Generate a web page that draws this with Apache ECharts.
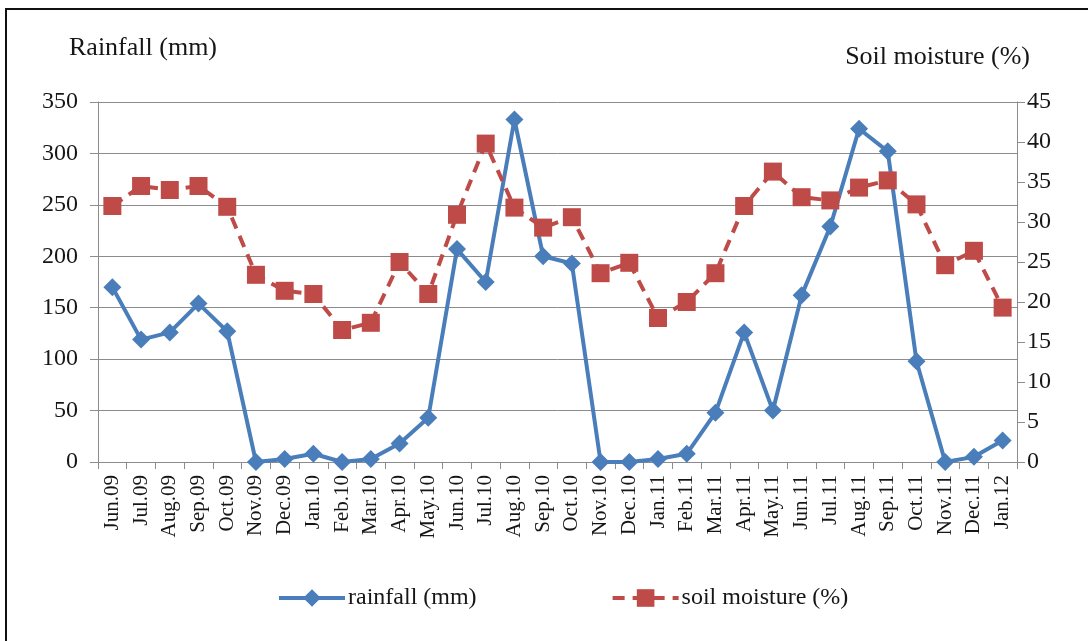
<!DOCTYPE html>
<html>
<head>
<meta charset="utf-8">
<title>Rainfall and soil moisture</title>
<script src="https://cdn.jsdelivr.net/npm/echarts@6/dist/echarts.min.js"></script>
<style>
  html, body { margin: 0; padding: 0; background: #fff; }
  #chart { width: 1088px; height: 641px; }
</style>
</head>
<body>
<div id="chart"></div>
<script>
// Monthly categories, Jun 2009 – Jan 2012
const months = [
  'Jun.09','Jul.09','Aug.09','Sep.09','Oct.09','Nov.09','Dec.09',
  'Jan.10','Feb.10','Mar.10','Apr.10','May.10','Jun.10','Jul.10','Aug.10','Sep.10','Oct.10','Nov.10','Dec.10',
  'Jan.11','Feb.11','Mar.11','Apr.11','May.11','Jun.11','Jul.11','Aug.11','Sep.11','Oct.11','Nov.11','Dec.11',
  'Jan.12'
];

// Monthly rainfall (mm)
const rainfall = [
  170, 119, 126, 154, 127, 0, 3,
  8, 0, 3, 18, 43, 207, 175, 333, 200, 193, 0, 0,
  3, 8, 48, 126, 50, 162, 229, 324, 302, 98, 0, 5,
  21
];

// Soil moisture (%)
const soilMoisture = [
  32.0, 34.5, 34.0, 34.5, 31.9, 23.4, 21.4,
  21.0, 16.5, 17.4, 25.0, 21.0, 30.9, 39.8, 31.8, 29.3, 30.6, 23.6, 24.9,
  18.0, 20.0, 23.6, 32.0, 36.3, 33.1, 32.7, 34.3, 35.2, 32.2, 24.6, 26.4,
  19.3
];

// Axis scales
const rainAxis = { min: 0, max: 350, interval: 50 };
const soilAxis = { min: 0, max: 45, interval: 5 };

const FONT = '"Liberation Serif", "Times New Roman", serif';
const BLUE = '#4A7EBB';
const RED = '#BE4B48';
const GRID_GRAY = '#8C8C8C';
const TEXT = '#161616';

const chart = echarts.init(document.getElementById('chart'), null, { renderer: 'canvas' });

chart.setOption({
  animation: false,
  backgroundColor: '#fff',
  textStyle: { fontFamily: FONT, color: TEXT },
  graphic: [
    {
      type: 'rect',
      shape: { x: 6, y: 9, width: 1100, height: 700 },
      style: { fill: 'none', stroke: '#111', lineWidth: 2 },
      silent: true
    },
    {
      type: 'text',
      left: 69, top: 35,
      style: { text: 'Rainfall (mm)', font: '26px ' + FONT, fill: TEXT }
    },
    {
      type: 'text',
      right: 58, top: 44,
      style: { text: 'Soil moisture (%)', font: '26px ' + FONT, fill: TEXT }
    }
  ],
  grid: { left: 98, right: 71, top: 102, bottom: 179, containLabel: false },
  legend: {
    left: 272,
    top: 581,
    itemGap: 134,
    itemWidth: 66,
    itemHeight: 22,
    textStyle: { fontFamily: FONT, fontSize: 24, color: TEXT, padding: [0, 0, 0, -2] },
    data: [
      { name: 'rainfall (mm)', lineStyle: { width: 4 } },
      { name: 'soil moisture (%)', lineStyle: { width: 4 } }
    ]
  },
  xAxis: {
    type: 'category',
    data: months,
    boundaryGap: true,
    axisLine: { lineStyle: { color: GRID_GRAY, width: 1 } },
    axisTick: { show: true, length: 7, interval: 0, lineStyle: { color: GRID_GRAY } },
    axisLabel: {
      interval: 0,
      rotate: 90,
      margin: 13,
      fontFamily: FONT,
      fontSize: 21,
      color: TEXT
    },
    splitLine: { show: false }
  },
  yAxis: [
    {
      type: 'value',
      min: rainAxis.min, max: rainAxis.max, interval: rainAxis.interval,
      position: 'left',
      axisLine: { show: true, lineStyle: { color: GRID_GRAY } },
      axisTick: { show: true, length: 8, lineStyle: { color: GRID_GRAY } },
      axisLabel: { fontFamily: FONT, fontSize: 24, color: TEXT, margin: 20 },
      splitLine: { show: true, lineStyle: { color: GRID_GRAY, width: 1 } }
    },
    {
      type: 'value',
      min: soilAxis.min, max: soilAxis.max, interval: soilAxis.interval,
      position: 'right',
      axisLine: { show: true, lineStyle: { color: GRID_GRAY } },
      axisTick: { show: true, length: 8, lineStyle: { color: GRID_GRAY } },
      axisLabel: { fontFamily: FONT, fontSize: 24, color: TEXT, margin: 10 },
      splitLine: { show: false }
    }
  ],
  series: [
    {
      name: 'rainfall (mm)',
      type: 'line',
      yAxisIndex: 0,
      data: rainfall,
      symbol: 'diamond',
      symbolSize: 18,
      showAllSymbol: true,
      z: 2,
      lineStyle: { color: BLUE, width: 4 },
      itemStyle: { color: BLUE, borderWidth: 0 }
    },
    {
      name: 'soil moisture (%)',
      type: 'line',
      yAxisIndex: 1,
      data: soilMoisture,
      symbol: 'rect',
      symbolSize: 18,
      showAllSymbol: true,
      z: 3,
      lineStyle: { color: RED, width: 4, type: [12, 8] },
      itemStyle: { color: RED, borderWidth: 0 }
    }
  ]
});
</script>
</body>
</html>
